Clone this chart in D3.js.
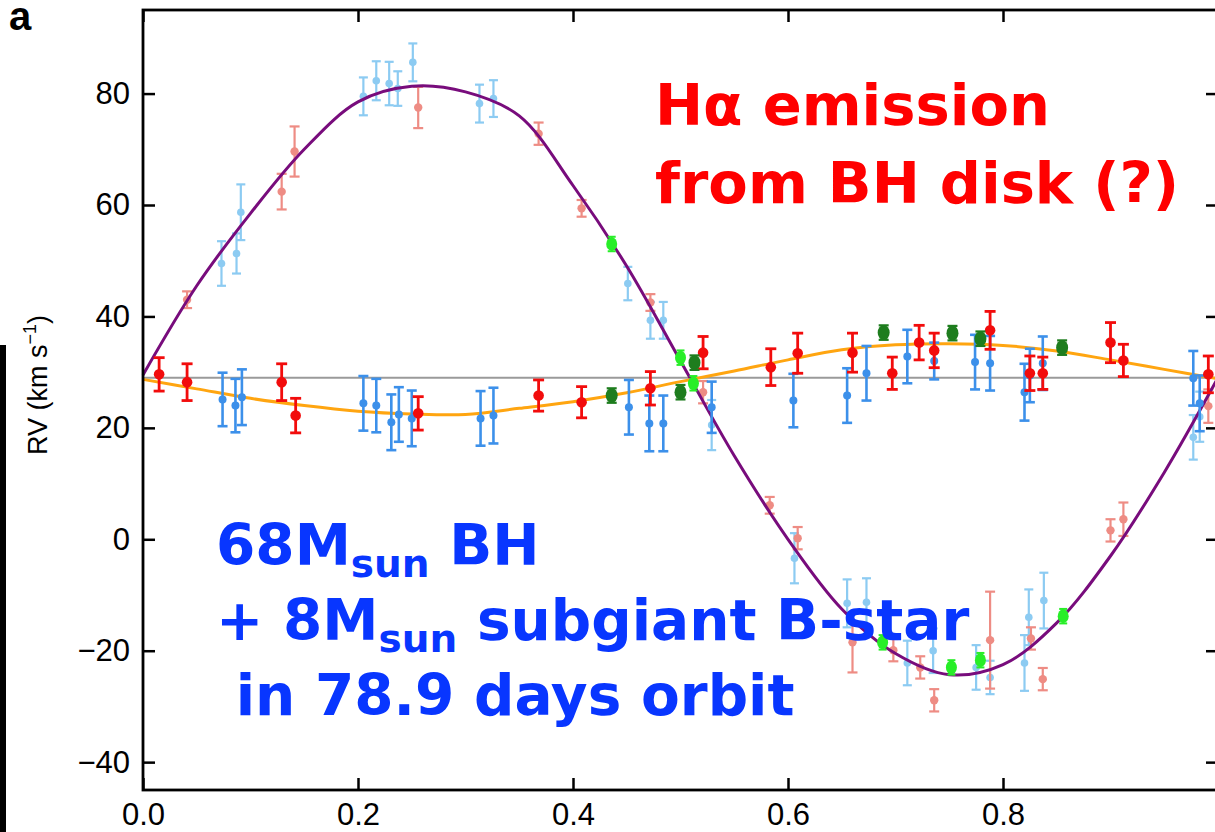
<!DOCTYPE html>
<html>
<head>
<meta charset="utf-8">
<script src="https://cdn.jsdelivr.net/npm/d3@7"></script>
<style>
  body { margin: 0; background: #fff; }
  svg { display: block; }
</style>
</head>
<body>
<div id="chart"></div>
<script>
// phase grid for the two fitted curves
var curvePhase = [0, 0.05, 0.1, 0.15, 0.2, 0.25, 0.3, 0.35, 0.4, 0.45, 0.5, 0.55, 0.6, 0.65, 0.7, 0.75, 0.8, 0.85, 0.9, 0.95, 1.0];
var starCurve  = [29.5, 45.5, 58.5, 70, 78.5, 81.3, 80.3, 76, 63.5, 49, 32, 15, 0, -12.5, -20.5, -24.3, -22.5, -15, -3, 12, 29];
var haCurve    = [28.7, 27, 25.3, 24, 23, 22.5, 22.4, 23.5, 24.7, 26.3, 28.3, 30.2, 32.2, 34, 34.9, 35.1, 34.8, 33.8, 32.2, 30.5, 28.8];
var systemicRV = 29;

// B-star absorption lines (pale points)
var paleBluePhase = [0.073, 0.087, 0.091, 0.205, 0.217, 0.229, 0.237, 0.251, 0.313, 0.326, 0.451, 0.472, 0.484, 0.529, 0.606, 0.655, 0.673, 0.711, 0.735, 0.775, 0.788, 0.820, 0.824, 0.838, 0.977, 0.983];
var paleBlueRV    = [49.5, 51.3, 58.7, 79.5, 82.3, 81.8, 80.9, 85.6, 78.2, 79.1, 45.9, 39.3, 39.3, 20.5, -3.4, -11.5, -11.3, -22.2, -20, -23, -24.8, -22.2, -14, -11, 18.3, 22];
var paleBlueErr   = [4, 3.6, 5, 3.4, 3.5, 3.9, 3.1, 3.4, 3.4, 3.3, 3, 3.3, 3.3, 4.5, 4.5, 4.3, 4.3, 4, 4, 4, 3, 5, 5, 5, 4, 4.5];

var pinkPhase = [0.041, 0.129, 0.141, 0.256, 0.368, 0.408, 0.472, 0.521, 0.583, 0.609, 0.660, 0.698, 0.723, 0.736, 0.788, 0.826, 0.837, 0.900, 0.912, 0.991];
var pinkRV    = [43, 62.4, 69.6, 77.5, 72.8, 59.4, 42.5, 26.4, 6.1, 0.2, -18.5, -19.9, -23, -28.9, -18.1, -17.8, -25.1, 1.6, 3.6, 23.9];
var pinkErr   = [1.5, 3.2, 4.5, 3.7, 2, 1.5, 1.5, 2, 1.5, 2, 5.4, 2, 2, 2, 8.7, 2, 2, 2, 3, 3];

var limePhase = [0.436, 0.500, 0.512, 0.688, 0.752, 0.779, 0.856];
var limeRV    = [53, 32.6, 28, -18.5, -23, -21.7, -13.8];

// H-alpha emission (strong points)
var redPhase = [0.015, 0.041, 0.129, 0.142, 0.256, 0.368, 0.408, 0.472, 0.521, 0.584, 0.609, 0.660, 0.697, 0.722, 0.736, 0.788, 0.825, 0.837, 0.900, 0.912, 0.991];
var redRV    = [29.6, 28.2, 28.2, 22.2, 22.6, 25.8, 24.6, 27.1, 33.5, 30.9, 33.4, 33.5, 29.8, 35.3, 33.9, 37.5, 29.8, 29.8, 35.3, 32.1, 29.6];
var redErr   = [3, 3.3, 3.3, 3.1, 3, 2.8, 2.8, 3, 2.9, 3.3, 3.6, 3.5, 2.9, 3.1, 3.1, 3.4, 3.1, 2.9, 3.6, 2.9, 3.3];

var bluePhase = [0.074, 0.086, 0.092, 0.205, 0.217, 0.231, 0.238, 0.250, 0.314, 0.326, 0.452, 0.471, 0.484, 0.529, 0.605, 0.655, 0.673, 0.711, 0.736, 0.774, 0.788, 0.820, 0.825, 0.837, 0.977, 0.983];
var blueRV    = [25.1, 24, 25.5, 24.4, 24, 21, 22.4, 21.7, 21.7, 22.2, 23.7, 20.8, 20.8, 23.7, 24.9, 25.8, 29.8, 32.8, 32, 31.8, 31.6, 26.4, 29.4, 31.6, 28.9, 24.4];
var blueErr   = [4.8, 4.8, 5, 4.9, 4.8, 5, 4.9, 5, 4.9, 5, 4.9, 5, 5, 4.6, 4.8, 4.9, 4.9, 4.8, 3.3, 4.9, 4.9, 5.1, 4.8, 4.8, 4.9, 5];

var darkGreenPhase = [0.436, 0.500, 0.513, 0.689, 0.753, 0.779, 0.855];
var darkGreenRV    = [25.8, 26.4, 31.7, 37.1, 37, 36, 34.4];

var yTicks = [-40, -20, 0, 20, 40, 60, 80];
var xTicks = [0, 0.2, 0.4, 0.6, 0.8];

var W = 1215, H = 832;
var mLeft = 143, mRight = 1218, mTop = 10, mBottom = 790;

var svg = d3.select("#chart").append("svg")
    .attr("width", W).attr("height", H)
    .style("font-family", "'Liberation Sans', Arial, sans-serif");

var x = d3.scaleLinear().domain([0, 1]).range([mLeft, mRight]);
var y = d3.scaleLinear().domain([-45, 95]).range([mBottom, mTop]);

function zip(ph, rv, err) {
    return ph.map(function(p, i){ return {p: p, v: rv[i], e: err ? err[i] : 1.3}; });
}

// black strip on the left edge
svg.append("rect").attr("x", 0).attr("y", 345).attr("width", 6).attr("height", H - 345).attr("fill", "#000");

// panel letter
svg.append("text").attr("x", 9).attr("y", 30)
    .attr("font-size", 40).attr("font-weight", "bold").text("a");

var plot = svg.append("g");

plot.append("line")
    .attr("x1", x(0)).attr("x2", x(1))
    .attr("y1", y(systemicRV)).attr("y2", y(systemicRV))
    .attr("stroke", "#9a9a9a").attr("stroke-width", 2);

function drawPoints(data, color, r, cap, sw, shape) {
    var g = plot.append("g");
    var pts = g.selectAll("g").data(data).enter().append("g");
    pts.append("line")
        .attr("x1", function(d){ return x(d.p); }).attr("x2", function(d){ return x(d.p); })
        .attr("y1", function(d){ return y(d.v - d.e); }).attr("y2", function(d){ return y(d.v + d.e); })
        .attr("stroke", color).attr("stroke-width", sw);
    [-1, 1].forEach(function(s){
        pts.append("line")
            .attr("x1", function(d){ return x(d.p) - cap; }).attr("x2", function(d){ return x(d.p) + cap; })
            .attr("y1", function(d){ return y(d.v + s * d.e); }).attr("y2", function(d){ return y(d.v + s * d.e); })
            .attr("stroke", color).attr("stroke-width", sw);
    });
    if (shape === "ellipse") {
        pts.append("ellipse")
            .attr("cx", function(d){ return x(d.p); }).attr("cy", function(d){ return y(d.v); })
            .attr("rx", r).attr("ry", r * 1.25).attr("fill", color);
    } else {
        pts.append("circle")
            .attr("cx", function(d){ return x(d.p); }).attr("cy", function(d){ return y(d.v); })
            .attr("r", r).attr("fill", color);
    }
}

drawPoints(zip(paleBluePhase, paleBlueRV, paleBlueErr), "#8ccbf2", 3.8, 4.5, 2.2);
drawPoints(zip(pinkPhase, pinkRV, pinkErr), "#ee8c84", 4.2, 5, 2.2);

var line = d3.line()
    .x(function(d){ return x(d[0]); })
    .y(function(d){ return y(d[1]); })
    .curve(d3.curveCatmullRom);

plot.append("path")
    .datum(curvePhase.map(function(p, i){ return [p, starCurve[i]]; }))
    .attr("d", line).attr("fill", "none")
    .attr("stroke", "#780c7c").attr("stroke-width", 3);

plot.append("path")
    .datum(curvePhase.map(function(p, i){ return [p, haCurve[i]]; }))
    .attr("d", line).attr("fill", "none")
    .attr("stroke", "#ffa510").attr("stroke-width", 3);

drawPoints(zip(bluePhase, blueRV, blueErr), "#3c90ea", 4, 5, 2.6);
drawPoints(zip(redPhase, redRV, redErr), "#f20c0c", 5.3, 5.5, 2.8);
drawPoints(zip(darkGreenPhase, darkGreenRV), "#1e7d1e", 6, 5, 2.2, "ellipse");
drawPoints(zip(limePhase, limeRV), "#28ee28", 5.5, 4, 2, "ellipse");

// axes with inward ticks
var axL = svg.append("g").attr("transform", "translate(" + mLeft + ",0)")
    .call(d3.axisLeft(y).tickValues(yTicks).tickSize(-12).tickPadding(13));
var axR = svg.append("g").attr("transform", "translate(" + mRight + ",0)")
    .call(d3.axisRight(y).tickValues(yTicks).tickSize(-12).tickFormat(""));
var axB = svg.append("g").attr("transform", "translate(0," + mBottom + ")")
    .call(d3.axisBottom(x).tickValues(xTicks).tickSize(-12).tickPadding(13).tickFormat(d3.format(".1f")));
var axT = svg.append("g").attr("transform", "translate(0," + mTop + ")")
    .call(d3.axisTop(x).tickValues(xTicks).tickSize(-12).tickFormat(""));

[axL, axR, axB, axT].forEach(function(a){
    a.select(".domain").remove();
    a.selectAll(".tick line").attr("stroke", "#000").attr("stroke-width", 2.5);
    a.selectAll(".tick text").attr("font-size", 31).attr("fill", "#000")
        .style("font-family", "'Liberation Sans', Arial, sans-serif");
});

svg.append("rect")
    .attr("x", mLeft).attr("y", mTop)
    .attr("width", mRight - mLeft).attr("height", mBottom - mTop)
    .attr("fill", "none").attr("stroke", "#000").attr("stroke-width", 2.8);

// y label
var yl = svg.append("text")
    .attr("transform", "translate(47,385) rotate(-90)")
    .attr("text-anchor", "middle").attr("font-size", 27);
yl.append("tspan").text("RV (km s");
yl.append("tspan").attr("font-size", 18).attr("dy", -11).text("\u22121");
yl.append("tspan").attr("dy", 11).text(")");

// annotations
var big = "'DejaVu Sans', Verdana, sans-serif";
var red = svg.append("text").attr("fill", "#ff0000").attr("font-weight", "bold")
    .attr("font-size", 57.5).style("font-family", big);
red.append("tspan").attr("x", 655).attr("y", 125).text("H\u03b1 emission");
red.append("tspan").attr("x", 655).attr("y", 203).text("from BH disk (?)");

var blue = svg.append("text").attr("fill", "#0836ff").attr("font-weight", "bold")
    .attr("font-size", 56.5).style("font-family", big);
blue.append("tspan").attr("x", 216).attr("y", 565).text("68M");
blue.append("tspan").attr("font-size", 39).attr("dy", 12).text("sun");
blue.append("tspan").attr("dy", -12).text(" BH");
blue.append("tspan").attr("x", 216).attr("y", 640).text("+ 8M");
blue.append("tspan").attr("font-size", 39).attr("dy", 12).text("sun");
blue.append("tspan").attr("dy", -12).text(" subgiant B-star");
blue.append("tspan").attr("x", 216).attr("y", 715).text("\u00a0in 78.9 days orbit");
</script>
</body>
</html>
